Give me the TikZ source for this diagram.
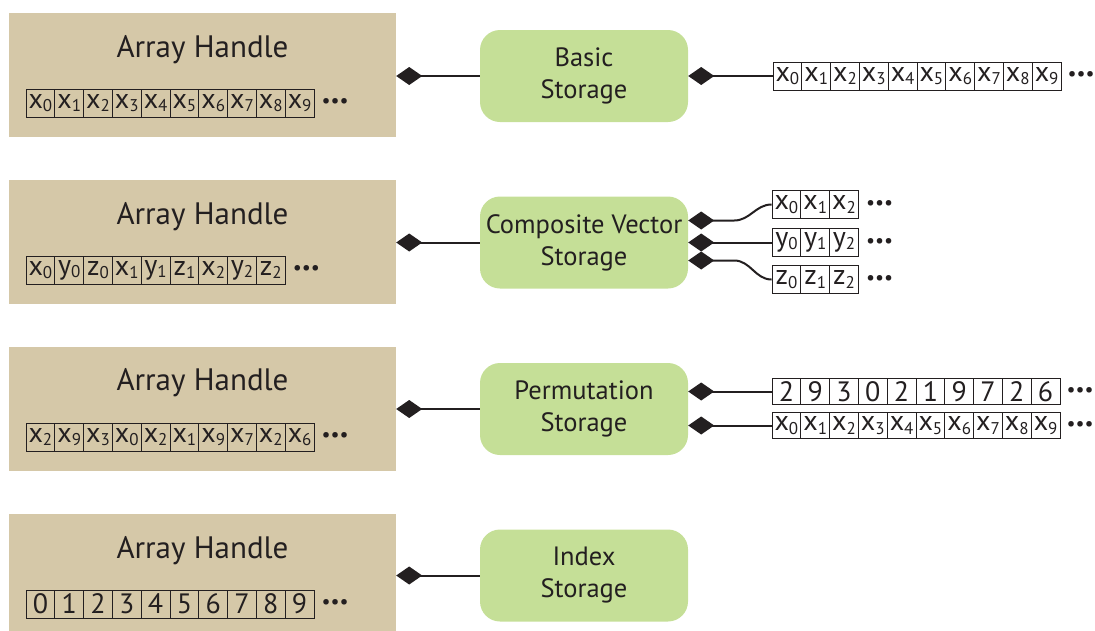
\documentclass[tikz,border=0pt]{standalone}
\usepackage{fontspec}
\setmainfont{PT Sans}
\usetikzlibrary{arrows.meta,calc}
\definecolor{tanbg}{HTML}{D5C8A8}
\definecolor{lgreen}{HTML}{C5DF97}
\definecolor{ink}{HTML}{231F20}
\newcommand\xs[2]{#1\raisebox{-0.12em}{\fontsize{17}{17}\selectfont #2}}
\tikzset{
  handle/.style={fill=tanbg, minimum width=387, minimum height=124, inner sep=0},
  htitle/.style={font=\fontsize{31}{31}\selectfont, text=ink, inner sep=0},
  store/.style={fill=lgreen, rounded corners=20pt, minimum width=208, minimum height=92,
    align=center, font=\fontsize{26.5}{32}\selectfont, text=ink, inner sep=0},
  cell/.style={draw=ink, line width=0.9pt, minimum width=28.8, minimum height=28, inner sep=0,
    font=\fontsize{28}{28}\selectfont, text=ink},
  wcell/.style={cell, fill=white},
  dots/.style={font=\fontsize{20}{20}\selectfont, text=ink, anchor=west, inner sep=0},
  link/.style={draw=ink, line width=2pt},
  dtip/.tip={Diamond[length=26pt,width=18pt]}
}
\begin{document}
\begin{tikzpicture}[x=1pt,y=-1pt]
\useasboundingbox (0,0) rectangle (1095,630);
% handles
\foreach \n/\y in {1/75,2/242,3/408.5,4/576}{
  \node[handle] (h\n) at (202.5,\y) {};
  \node[htitle] (t\n) at (202.5,\y-25.5) {Array Handle};
}
% stores
\node[store] (s1) at (584,76) {Basic\\Storage};
\node[store] (s2) at (584,242.5) {Composite Vector\\Storage};
\node[store] (s3) at (584,409) {Permutation\\Storage};
\node[store] (s4) at (584,575.5) {Index\\Storage};
% handle arrays
\foreach \t [count=\i from 0] in {\xs{x}{0},\xs{x}{1},\xs{x}{2},\xs{x}{3},\xs{x}{4},\xs{x}{5},\xs{x}{6},\xs{x}{7},\xs{x}{8},\xs{x}{9}}
  \node[cell] (a1-\i) at (40.4+28.8*\i,103) {\t};
\node[dots] (d1) at ($(a1-9.east)+(7,0)$) {•••};
\foreach \t [count=\i from 0] in {\xs{x}{0},\xs{y}{0},\xs{z}{0},\xs{x}{1},\xs{y}{1},\xs{z}{1},\xs{x}{2},\xs{y}{2},\xs{z}{2}}
  \node[cell] (a2-\i) at (40.4+28.8*\i,270) {\t};
\node[dots] (d2) at ($(a2-8.east)+(7,0)$) {•••};
\foreach \t [count=\i from 0] in {\xs{x}{2},\xs{x}{9},\xs{x}{3},\xs{x}{0},\xs{x}{2},\xs{x}{1},\xs{x}{9},\xs{x}{7},\xs{x}{2},\xs{x}{6}}
  \node[cell] (a3-\i) at (40.4+28.8*\i,437) {\t};
\node[dots] (d3) at ($(a3-9.east)+(7,0)$) {•••};
\foreach \t [count=\i from 0] in {0,1,2,3,4,5,6,7,8,9}
  \node[cell] (a4-\i) at (40.4+28.8*\i,604) {\t};
\node[dots] (d4) at ($(a4-9.east)+(7,0)$) {•••};
% right arrays
\foreach \t [count=\i from 0] in {\xs{x}{0},\xs{x}{1},\xs{x}{2},\xs{x}{3},\xs{x}{4},\xs{x}{5},\xs{x}{6},\xs{x}{7},\xs{x}{8},\xs{x}{9}}
  \node[wcell] (b1-\i) at (787.4+28.8*\i,76) {\t};
\node[dots] (e1) at ($(b1-9.east)+(6,0)$) {•••};
\foreach \t [count=\i from 0] in {\xs{x}{0},\xs{x}{1},\xs{x}{2}}
  \node[wcell] (bx-\i) at (786.4+28.8*\i,204.5) {\t};
\node[dots] (ex) at ($(bx-2.east)+(7,0)$) {•••};
\foreach \t [count=\i from 0] in {\xs{y}{0},\xs{y}{1},\xs{y}{2}}
  \node[wcell] (by-\i) at (786.4+28.8*\i,242.5) {\t};
\node[dots] (ey) at ($(by-2.east)+(7,0)$) {•••};
\foreach \t [count=\i from 0] in {\xs{z}{0},\xs{z}{1},\xs{z}{2}}
  \node[wcell] (bz-\i) at (786.4+28.8*\i,279.5) {\t};
\node[dots] (ez) at ($(bz-2.east)+(7,0)$) {•••};
\foreach \t [count=\i from 0] in {2,9,3,0,2,1,9,7,2,6}
  \node[wcell, minimum height=26] (bp-\i) at (786.4+28.8*\i,391.5) {\t};
\node[dots] (ep) at ($(bp-9.east)+(6,0)$) {•••};
\foreach \t [count=\i from 0] in {\xs{x}{0},\xs{x}{1},\xs{x}{2},\xs{x}{3},\xs{x}{4},\xs{x}{5},\xs{x}{6},\xs{x}{7},\xs{x}{8},\xs{x}{9}}
  \node[wcell, minimum height=26] (bq-\i) at (786.4+28.8*\i,425.5) {\t};
\node[dots] (eq) at ($(bq-9.east)+(6,0)$) {•••};
% connectors to handles
\foreach \n in {1,2,3,4}
  \draw[link,-dtip] (s\n.west) -- (s\n.west -| h\n.east);
% right connectors
\draw[link,dtip-] (s1.east) -- (b1-0.west);
\coordinate (c2a) at ($(s2.east)+(0,-22)$);
\coordinate (c2c) at ($(s2.east)+(0,18)$);
\draw[link,dtip-] (c2a) -- ++(46,0) to[out=0,in=180] (bx-0.west);
\draw[link,dtip-] (s2.east) -- (by-0.west);
\draw[link,dtip-] (c2c) -- ++(46,0) to[out=0,in=180] (bz-0.west);
\coordinate (c3a) at ($(s3.east)+(0,-17.5)$);
\coordinate (c3b) at ($(s3.east)+(0,16.5)$);
\draw[link,dtip-] (c3a) -- (c3a -| bp-0.west);
\draw[link,dtip-] (c3b) -- (c3b -| bq-0.west);
\end{tikzpicture}
\end{document}
